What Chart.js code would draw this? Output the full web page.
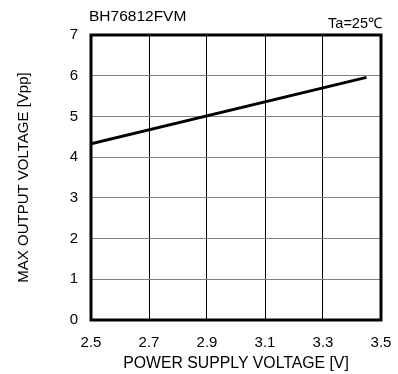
<!DOCTYPE html>
<html>
<head>
<meta charset="utf-8">
<script src="https://cdn.jsdelivr.net/npm/chart.js@4/dist/chart.umd.min.js"></script>
<style>
html,body{margin:0;padding:0;background:#fff;}
canvas{display:block;}
</style>
</head>
<body>
<canvas id="c" width="398" height="374"></canvas>
<script>
// Data
const supplyVoltage = [2.5, 3.45];          // V
const maxOutputVoltage = [4.33, 5.96];       // Vpp
const xTickValues = [2.5, 2.7, 2.9, 3.1, 3.3, 3.5];
const yTickValues = [0, 1, 2, 3, 4, 5, 6, 7];
const chartTitle = 'BH76812FVM';
const conditionLabel = 'Ta=25\u2103';
const xTitle = 'POWER SUPPLY VOLTAGE [V]';
const yTitle = 'MAX OUTPUT VOLTAGE [Vpp]';

const FONT = '"Liberation Sans", Arial, sans-serif';

const points = supplyVoltage.map((x, i) => ({x: x, y: maxOutputVoltage[i]}));

const framePlugin = {
  id: 'frame',
  afterDatasetsDraw(chart) {
    const {ctx, chartArea: a} = chart;
    ctx.save();
    ctx.strokeStyle = '#000';
    ctx.lineWidth = 3;
    ctx.strokeRect(a.left, a.top, a.right - a.left, a.bottom - a.top);
    ctx.restore();
  },
  afterDraw(chart) {
    const {ctx, chartArea: a} = chart;
    ctx.save();
    ctx.fillStyle = '#000';
    ctx.textBaseline = 'middle';
    ctx.font = '15.5px ' + FONT;
    ctx.textAlign = 'left';
    ctx.fillText(chartTitle, a.left - 2, 17);
    ctx.font = '14.5px ' + FONT;
    ctx.textAlign = 'right';
    ctx.fillText(conditionLabel, a.right + 1, 24);
    ctx.restore();
  }
};

new Chart(document.getElementById('c'), {
  type: 'line',
  data: {
    datasets: [{
      data: points,
      borderColor: '#000',
      borderWidth: 3,
      pointRadius: 0,
      fill: false,
      tension: 0
    }]
  },
  options: {
    responsive: false,
    animation: false,
    devicePixelRatio: 1,
    layout: {padding: {left: 0, right: 17, top: 35, bottom: 0}},
    plugins: {legend: {display: false}, tooltip: {enabled: false}},
    scales: {
      x: {
        type: 'linear',
        min: 2.5, max: 3.5,
        afterFit(s) { s.height = 54; s.paddingLeft = 0; s.paddingRight = 0; },
        afterBuildTicks(s) { s.ticks = xTickValues.map(v => ({value: v})); },
        ticks: {
          color: '#000',
          font: {family: FONT, size: 15},
          padding: 14,
          maxRotation: 0,
          autoSkip: false,
          callback: v => Number(v).toFixed(1)
        },
        grid: {color: '#000', lineWidth: 1, drawTicks: false},
        border: {display: false},
        title: {display: true, text: xTitle, color: '#000',
                font: {family: FONT, size: 15.8}, padding: {top: 0, bottom: 1}}
      },
      y: {
        type: 'linear',
        min: 0, max: 7,
        afterFit(s) { s.width = 91; s.paddingTop = 0; s.paddingBottom = 0; },
        afterBuildTicks(s) { s.ticks = yTickValues.map(v => ({value: v})); },
        ticks: {
          color: '#000',
          font: {family: FONT, size: 15},
          padding: 13,
          autoSkip: false
        },
        grid: {color: '#808080', lineWidth: 1, drawTicks: false},
        border: {display: false},
        title: {display: true, text: yTitle, color: '#000',
                font: {family: FONT, size: 15}, padding: {top: 15, bottom: 0}}
      }
    }
  },
  plugins: [framePlugin]
});
</script>
</body>
</html>
